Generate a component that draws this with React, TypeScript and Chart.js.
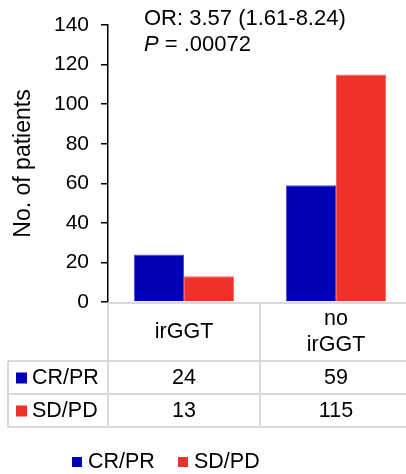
import React, { useEffect, useRef } from "react";
import { Chart, registerables } from "chart.js";

Chart.register(...registerables);

const categories: string[][] = [["irGGT"], ["no", "irGGT"]];
const seriesNames = ["CR/PR", "SD/PD"];
const crPr = [24, 59];
const sdPd = [13, 115];
const seriesColors = ["#0000b4", "#ee3129"];
const yMax = 140;
const yStep = 20;
const yTitle = "No. of patients";
const orText = "OR: 3.57 (1.61-8.24)";
const pLabel = "P";
const pValue = " = .00072";

const FONT = "'Liberation Sans', Arial, sans-serif";
const TXT = 21.5;

const tablePlugin = {
  id: "tablePlugin",
  afterDraw(chart: any) {
    const ctx = chart.ctx as CanvasRenderingContext2D;
    const ca = chart.chartArea;
    const xs = chart.scales.x;
    const n = categories.length;
    const w = (ca.right - ca.left) / n;
    const headerBottom = ca.bottom + 59;
    const rowH = 33;
    const tableLeft = 8;
    const tableBottom = headerBottom + rowH * 2;
    const right = chart.width;
    ctx.save();
    ctx.strokeStyle = "#d9d9d9";
    ctx.lineWidth = 2;
    ctx.beginPath();
    ctx.moveTo(ca.left, ca.bottom + 1);
    ctx.lineTo(right, ca.bottom + 1);
    for (let r = 0; r <= 2; r++) {
      const y = headerBottom + r * rowH;
      ctx.moveTo(tableLeft, y);
      ctx.lineTo(right, y);
    }
    ctx.moveTo(tableLeft, headerBottom);
    ctx.lineTo(tableLeft, tableBottom + 1);
    for (let i = 0; i <= n; i++) {
      const x = ca.left + i * w;
      ctx.moveTo(x, ca.bottom + 1);
      ctx.lineTo(x, tableBottom + 1);
    }
    ctx.stroke();

    ctx.fillStyle = "#000";
    ctx.font = `${TXT}px ${FONT}`;
    ctx.textAlign = "center";
    ctx.textBaseline = "middle";
    const headerMid = (ca.bottom + headerBottom) / 2 + 1;
    categories.forEach((lines, i) => {
      const cx = xs.getPixelForValue(i);
      const lh = 26;
      const start = headerMid - ((lines.length - 1) * lh) / 2;
      lines.forEach((t, k) => ctx.fillText(t, cx, start + k * lh));
    });
    const rows = [crPr, sdPd];
    rows.forEach((vals, r) => {
      const cy = headerBottom + r * rowH + rowH / 2 + 1;
      ctx.fillStyle = seriesColors[r];
      ctx.fillRect(16, cy - 6, 11, 11);
      ctx.fillStyle = "#000";
      ctx.textAlign = "left";
      ctx.fillText(seriesNames[r], 32, cy);
      ctx.textAlign = "center";
      vals.forEach((v, i) => {
        ctx.fillText(String(v), xs.getPixelForValue(i), cy);
      });
    });

    const ly = 462;
    let lx = 72;
    seriesNames.forEach((name, i) => {
      ctx.fillStyle = seriesColors[i];
      ctx.fillRect(lx, ly - 5, 10, 10);
      ctx.fillStyle = "#000";
      ctx.textAlign = "left";
      ctx.fillText(name, lx + 16, ly);
      lx += 106;
    });

    ctx.textAlign = "left";
    ctx.font = `22px ${FONT}`;
    ctx.fillText(orText, 144, 19);
    ctx.font = `italic 22px ${FONT}`;
    ctx.fillText(pLabel, 144, 45);
    const pw = ctx.measureText(pLabel).width;
    ctx.font = `22px ${FONT}`;
    ctx.fillText(pValue, 144 + pw, 45);
    ctx.restore();
  },
};

export default function App() {
  const ref = useRef<HTMLCanvasElement | null>(null);
  useEffect(() => {
    if (!ref.current) return;
    const chart = new Chart(ref.current, {
      type: "bar",
      data: {
        labels: categories.map((c) => c.join(" ")),
        datasets: [
          {
            label: seriesNames[0],
            data: crPr,
            backgroundColor: seriesColors[0],
            borderColor: "#5050d0",
            borderWidth: 1,
          },
          {
            label: seriesNames[1],
            data: sdPd,
            backgroundColor: seriesColors[1],
            borderColor: "#f06a62",
            borderWidth: 1,
          },
        ],
      },
      options: {
        responsive: false,
        animation: false,
        maintainAspectRatio: false,
        layout: { padding: { top: 25, bottom: 172, left: 0, right: 0 } },
        datasets: { bar: { categoryPercentage: 0.66, barPercentage: 1 } },
        plugins: {
          legend: { display: false },
          tooltip: { enabled: false },
        },
        scales: {
          x: { display: false },
          y: {
            min: 0,
            max: yMax,
            afterFit(scale: any) {
              scale.width = 108;
            },
            ticks: {
              stepSize: yStep,
              color: "#000",
              padding: 12,
              font: { family: FONT, size: 21 },
            },
            grid: {
              drawOnChartArea: false,
              drawTicks: true,
              tickLength: 7,
              color: "#000",
              lineWidth: 1.5,
            },
            border: { display: true, color: "#000", width: 1.5 },
            title: {
              display: true,
              text: yTitle,
              color: "#000",
              font: { family: FONT, size: 23 },
              padding: { top: 10, bottom: 0 },
            },
          },
        },
      },
      plugins: [tablePlugin],
    });
    return () => chart.destroy();
  }, []);
  return (
    <div
      style={{
        position: "absolute",
        left: 0,
        top: 0,
        width: 406,
        height: 474,
        overflow: "hidden",
        background: "#fff",
      }}
    >
      <canvas ref={ref} width={412} height={474} style={{ display: "block" }} />
    </div>
  );
}
